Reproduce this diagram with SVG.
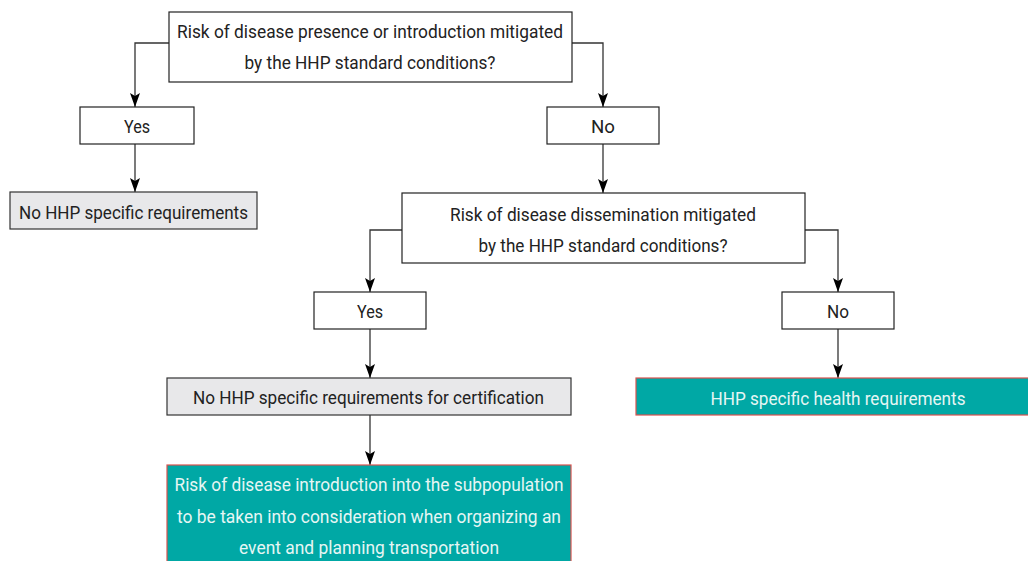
<svg xmlns="http://www.w3.org/2000/svg" width="1028" height="561" viewBox="0 0 1028 561">
<defs>
<marker id="arr" viewBox="0 0 14 10" refX="14" refY="5" markerWidth="14" markerHeight="10" markerUnits="userSpaceOnUse" orient="auto">
<path d="M0,0 L14,5 L0,10 L3,5 Z" fill="#000"/>
</marker>
<style>
text{font-family:"Liberation Sans Narrow",Roboto,"Liberation Sans",sans-serif;font-size:18px;text-anchor:middle;fill:#222}
.w{fill:#fff;stroke:#222;stroke-width:1.2}
.g{fill:#e8e8ea;stroke:#333;stroke-width:1.2}
.t{fill:#00a8a5;stroke:#d9534f;stroke-width:1.2}
.tt{fill:#e6f6f4}
.c{fill:none;stroke:#333;stroke-width:1.3;marker-end:url(#arr)}
</style>
</defs>
<rect width="1028" height="561" fill="#fff"/>
<g id="connectors">
<path class="c" d="M169,43 H135 V107"/>
<path class="c" d="M572,43 H603 V107"/>
<path class="c" d="M135,144 V192"/>
<path class="c" d="M603,144 V193"/>
<path class="c" d="M402,230 H370 V292"/>
<path class="c" d="M805,230 H838 V292"/>
<path class="c" d="M370,329 V378"/>
<path class="c" d="M838,329 V378"/>
<path class="c" d="M370,415 V465"/>
</g>
<g id="q1">
<rect class="w" x="169" y="12" width="403" height="70"/>
<text x="370" y="38" textLength="386" lengthAdjust="spacingAndGlyphs">Risk of disease presence or introduction mitigated</text>
<text x="370" y="69" textLength="251" lengthAdjust="spacingAndGlyphs">by the HHP standard conditions?</text>
</g>
<g id="yes1">
<rect class="w" x="80" y="107" width="114" height="37"/>
<text x="137" y="133" textLength="26" lengthAdjust="spacingAndGlyphs">Yes</text>
</g>
<g id="no1">
<rect class="w" x="547" y="107" width="112" height="37"/>
<text x="603" y="133" textLength="24" lengthAdjust="spacingAndGlyphs">No</text>
</g>
<g id="r1">
<rect class="g" x="10" y="192" width="247" height="37"/>
<text x="133.5" y="219" textLength="229" lengthAdjust="spacingAndGlyphs">No HHP specific requirements</text>
</g>
<g id="q2">
<rect class="w" x="402" y="193" width="403" height="70"/>
<text x="603" y="221" textLength="306" lengthAdjust="spacingAndGlyphs">Risk of disease dissemination mitigated</text>
<text x="603" y="252" textLength="249" lengthAdjust="spacingAndGlyphs">by the HHP standard conditions?</text>
</g>
<g id="yes2">
<rect class="w" x="314" y="292" width="112" height="37"/>
<text x="370" y="318" textLength="26" lengthAdjust="spacingAndGlyphs">Yes</text>
</g>
<g id="no2">
<rect class="w" x="782" y="292" width="112" height="37"/>
<text x="838" y="318" textLength="22" lengthAdjust="spacingAndGlyphs">No</text>
</g>
<g id="r2">
<rect class="g" x="167" y="378" width="404" height="37"/>
<text x="368.5" y="404" textLength="351" lengthAdjust="spacingAndGlyphs">No HHP specific requirements for certification</text>
</g>
<g id="r3">
<rect class="t" x="636" y="378" width="404" height="37"/>
<text class="tt" x="838" y="405" textLength="255" lengthAdjust="spacingAndGlyphs">HHP specific health requirements</text>
</g>
<g id="r4">
<rect class="t" x="167" y="465" width="404" height="105"/>
<text class="tt" x="369" y="491" textLength="389" lengthAdjust="spacingAndGlyphs">Risk of disease introduction into the subpopulation</text>
<text class="tt" x="369" y="523" textLength="384" lengthAdjust="spacingAndGlyphs">to be taken into consideration when organizing an</text>
<text class="tt" x="369" y="554" textLength="260" lengthAdjust="spacingAndGlyphs">event and planning transportation</text>
</g>
</svg>
